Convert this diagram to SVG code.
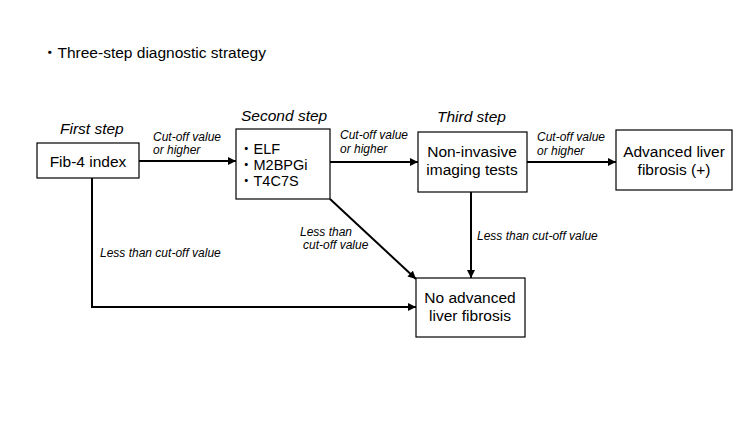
<svg xmlns="http://www.w3.org/2000/svg" width="750" height="422" viewBox="0 0 750 422">
<style>
.t{font-family:"Liberation Sans","Noto Sans CJK JP",sans-serif;font-size:15.5px;fill:#000}
.b{font-family:"Liberation Sans","Noto Sans CJK JP",sans-serif;font-size:14.5px;fill:#000}
.s{font-family:"Liberation Sans",sans-serif;font-size:15.5px;font-style:italic;fill:#000}
.c{font-family:"Liberation Sans",sans-serif;font-size:12px;font-style:italic;fill:#000}
.box{fill:#fff;stroke:#000;stroke-width:1.2}
.ln{fill:none;stroke:#000;stroke-width:2;marker-end:url(#ah)}
</style>
<defs>
<marker id="ah" viewBox="0 0 10 10" refX="10" refY="5" markerWidth="4" markerHeight="4" orient="auto" markerUnits="strokeWidth">
<path d="M0,0 L10,5 L0,10 z" fill="#000"/>
</marker>
</defs>
<rect width="750" height="422" fill="#fff"/>
<text class="t" x="42" y="58">・Three-step diagnostic strategy</text>
<text class="s" x="60" y="134">First step</text>
<text class="s" x="241" y="121">Second step</text>
<text class="s" x="437" y="122">Third step</text>
<g id="connectors">
<line class="ln" x1="139" y1="161" x2="236" y2="161"/>
<line class="ln" x1="330" y1="162" x2="418" y2="162"/>
<line class="ln" x1="527" y1="162" x2="616" y2="162"/>
<line class="ln" x1="471" y1="192" x2="471" y2="278"/>
<line class="ln" x1="330" y1="199" x2="416" y2="279"/>
<polyline class="ln" points="92,178 92,307 416,307"/>
<text class="c" x="153" y="141">Cut-off value</text>
<text class="c" x="153" y="154">or higher</text>
<text class="c" x="340" y="139">Cut-off value</text>
<text class="c" x="340" y="153">or higher</text>
<text class="c" x="537" y="141">Cut-off value</text>
<text class="c" x="537" y="155">or higher</text>
<text class="c" x="100" y="257">Less than cut-off value</text>
<text class="c" x="300" y="236">Less than</text>
<text class="c" x="303" y="249">cut-off value</text>
<text class="c" x="477" y="240">Less than cut-off value</text>
</g>
<g id="fib4">
<rect class="box" x="37" y="143" width="102" height="35"/>
<text class="t" x="88" y="167" text-anchor="middle">Fib-4 index</text>
</g>
<g id="second">
<rect class="box" x="236" y="129" width="94" height="70"/>
<text class="b" x="239" y="154">・ELF</text>
<text class="b" x="239" y="170">・M2BPGi</text>
<text class="b" x="239" y="186">・T4C7S</text>
</g>
<g id="third">
<rect class="box" x="418" y="132" width="109" height="60"/>
<text class="t" x="472" y="157" text-anchor="middle">Non-invasive</text>
<text class="t" x="472" y="175" text-anchor="middle">imaging tests</text>
</g>
<g id="advanced">
<rect class="box" x="616" y="130" width="116" height="60"/>
<text class="t" x="674" y="157" text-anchor="middle">Advanced liver</text>
<text class="t" x="674" y="175" text-anchor="middle">fibrosis (+)</text>
</g>
<g id="noadvanced">
<rect class="box" x="416" y="278" width="109" height="59"/>
<text class="t" x="470" y="303" text-anchor="middle">No advanced</text>
<text class="t" x="470" y="321" text-anchor="middle">liver fibrosis</text>
</g>
</svg>
